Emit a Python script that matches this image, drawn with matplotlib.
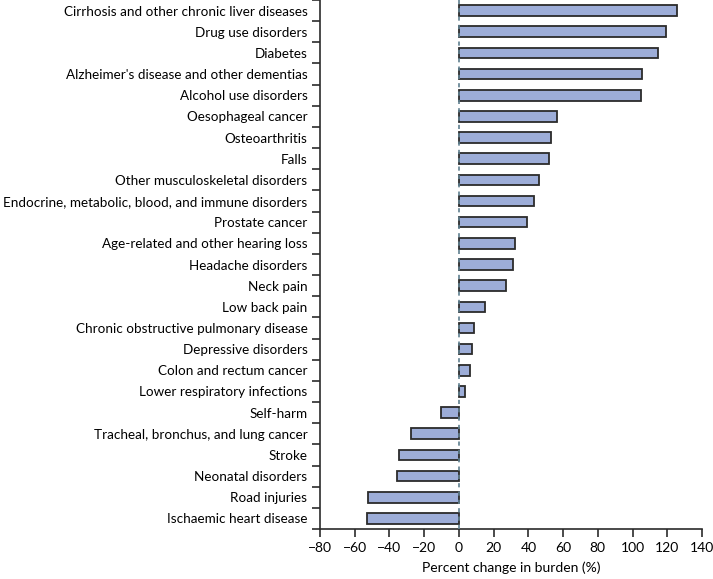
import numpy as np
import matplotlib

matplotlib.use('Agg')
import matplotlib.pyplot as plt

CAUSES = [
    'Cirrhosis and other chronic liver diseases', 'Drug use disorders', 'Diabetes',
    "Alzheimer's disease and other dementias", 'Alcohol use disorders',
    'Oesophageal cancer', 'Osteoarthritis', 'Falls', 'Other musculoskeletal disorders',
    'Endocrine, metabolic, blood, and immune disorders', 'Prostate cancer',
    'Age-related and other hearing loss', 'Headache disorders', 'Neck pain',
    'Low back pain', 'Chronic obstructive pulmonary disease', 'Depressive disorders',
    'Colon and rectum cancer', 'Lower respiratory infections', 'Self-harm',
    'Tracheal, bronchus, and lung cancer', 'Stroke', 'Neonatal disorders',
    'Road injuries', 'Ischaemic heart disease',
]
CHANGE = [125.5, 119.3, 114.9, 105.4, 104.9, 56.5, 53.0, 52.0, 46.4, 43.4, 39.3,
          32.4, 31.2, 27.2, 15.0, 8.5, 7.3, 6.4, 3.5, -10.4, -27.8, -34.5, -35.5,
          -52.5, -52.9]
XTICKS = list(range(-80, 141, 20))

plt.rcParams['font.family'] = ['Lato', 'DejaVu Sans']
FS = 9.7

fig = plt.figure(figsize=(7.13, 5.79), dpi=100)
ax = fig.add_axes([320 / 713, 50 / 579, 382 / 713, 529 / 579])

y = np.arange(len(CAUSES))
ax.barh(y, CHANGE, height=0.5, color='#9dadd8', edgecolor='#2b2b2b', lw=1.3, zorder=2)
ax.axvline(0, color='#5f7f8f', lw=1.2, ls=(0, (2.5, 2.5)), zorder=3)

ax.set_ylim(len(CAUSES) - 0.5, -0.5)
ax.set_xlim(-80, 140)
ax.set_xticks(XTICKS)
ax.set_xticklabels([str(t).replace('-', '\u2212') for t in XTICKS], fontsize=FS + 0.3)
ax.set_yticks(y)
ax.set_yticklabels(CAUSES, fontsize=FS)
ax.tick_params(axis='y', length=0, pad=9)
ax.set_yticks(np.arange(-0.5, len(CAUSES)), minor=True)
ax.tick_params(axis='y', which='minor', length=6, width=1.2, color='#2b2b2b')
ax.tick_params(axis='x', length=6, width=1.2, color='#2b2b2b', pad=3)
for side in ('top', 'right'):
    ax.spines[side].set_visible(False)
for side in ('left', 'bottom'):
    ax.spines[side].set_linewidth(1.2)
    ax.spines[side].set_color('#2b2b2b')
ax.set_xlabel('Percent change in burden (%)', fontsize=FS + 0.3, labelpad=6)

fig.savefig('out.png', dpi=100)
